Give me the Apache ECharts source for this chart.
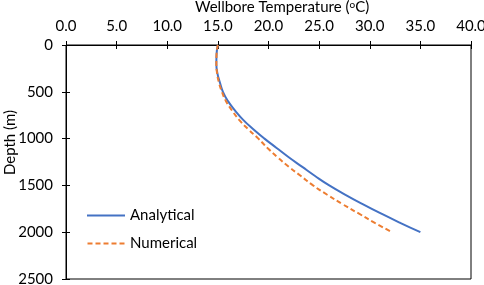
<!DOCTYPE html>
<html>
<head>
<meta charset="utf-8">
<script src="https://cdn.jsdelivr.net/npm/echarts@6/dist/echarts.min.js"></script>
<style>html,body{margin:0;padding:0;background:#fff}#c{width:484px;height:285px}</style>
</head>
<body>
<div id="c"></div>
<script>
const depths = [0,100,200,300,400,500,600,700,800,900,1000,1100,1200,1300,1400,1500,1600,1700,1800,1900,2000];
const analyticalT = [15.0,14.87,14.85,14.95,15.2,15.5,16.0,16.7,17.5,18.5,19.6,20.8,22.0,23.3,24.6,26.0,27.6,29.3,31.1,33.0,35.0];
const numericalT  = [15.0,14.87,14.85,14.92,15.1,15.4,15.8,16.4,17.1,18.0,19.0,19.9,20.9,22.0,23.2,24.4,25.8,27.3,28.9,30.5,32.2];
const seriesNames = ['Analytical','Numerical'];
const xTicks = [0,5,10,15,20,25,30,35,40];
const yTicks = [0,500,1000,1500,2000,2500];
const yTitle = 'Depth (m)';

const FONT = 'Lato';
const FS = 15;
const SOLID_ICON = 'path://M0,0H38V2H0Z';
const DASH_ICON = 'path://M0,0H5V2H0Z M8,0H13V2H8Z M16,0H21V2H16Z M24,0H29V2H24Z M32,0H37V2H32Z';
const chart = echarts.init(document.getElementById('c'));
const pairs = (t) => t.map((v,i)=>[v, depths[i]]);
chart.setOption({
  animation:false,
  textStyle:{fontFamily:FONT},
  grid:{left:66,right:13,top:45,bottom:6,show:true,borderColor:'#000',borderWidth:1,containLabel:false,outerBoundsMode:'none'},
  legend:{
    orient:'vertical', left:82, top:203, itemWidth:38, itemHeight:2, itemGap:13,
    textStyle:{fontFamily:FONT,fontSize:FS,color:'#000'},
    data:[{name:seriesNames[0],icon:SOLID_ICON},{name:seriesNames[1],icon:DASH_ICON}],
    selectedMode:false
  },
  graphic:[{
    type:'text', left:195, top:0,
    style:{
      text:'Wellbore Temperature ({sup|o}C)',
      font:FS+'px '+FONT, fill:'#000',
      rich:{sup:{fontSize:10,fontFamily:FONT,fill:'#000',verticalAlign:'top',padding:[0,0,5,0]}}
    }
  },{
    type:'text', left:3, top:'middle', y:-14, rotation:Math.PI/2,
    style:{text:yTitle, font:FS+'px '+FONT, fill:'#000'}
  }],
  xAxis:[{
    type:'value', position:'top', min:xTicks[0], max:xTicks[xTicks.length-1], interval:5,
    axisLine:{show:true,lineStyle:{color:'#000',width:1}},
    axisTick:{show:true,inside:true,length:4,lineStyle:{color:'#000'}},
    axisLabel:{fontFamily:FONT,fontSize:FS,color:'#000',margin:11,formatter:v=>v.toFixed(1)},
    splitLine:{show:false}
  },{
    type:'value', position:'bottom', min:0, max:40, interval:5,
    axisLine:{show:true,lineStyle:{color:'#000'}},
    axisTick:{show:true,inside:true,length:4,lineStyle:{color:'#000'}},
    axisLabel:{show:false}, splitLine:{show:false}
  }],
  yAxis:[{
    type:'value', inverse:true, min:yTicks[0], max:yTicks[yTicks.length-1], interval:500,
    axisLine:{show:true,lineStyle:{color:'#000',width:1}},
    axisTick:{show:true,inside:true,length:4,lineStyle:{color:'#000'}},
    axisLabel:{fontFamily:FONT,fontSize:FS,color:'#000',margin:13,formatter:v=>String(v)},
    splitLine:{show:false}
  },{
    type:'value', inverse:true, position:'right', min:0, max:2500, interval:500,
    axisLine:{show:true,lineStyle:{color:'#000'}},
    axisTick:{show:true,inside:true,length:4,lineStyle:{color:'#000'}},
    axisLabel:{show:false}, splitLine:{show:false}
  }],
  series:[{
    name:seriesNames[0], type:'line', smooth:true, symbol:'none',
    data:pairs(analyticalT), color:'#4472C4',
    lineStyle:{color:'#4472C4',width:2}
  },{
    name:seriesNames[1], type:'line', smooth:true, symbol:'none',
    data:pairs(numericalT), color:'#ED7D31',
    lineStyle:{color:'#ED7D31',width:2,type:[5,3]}
  }]
});
</script>
</body>
</html>
